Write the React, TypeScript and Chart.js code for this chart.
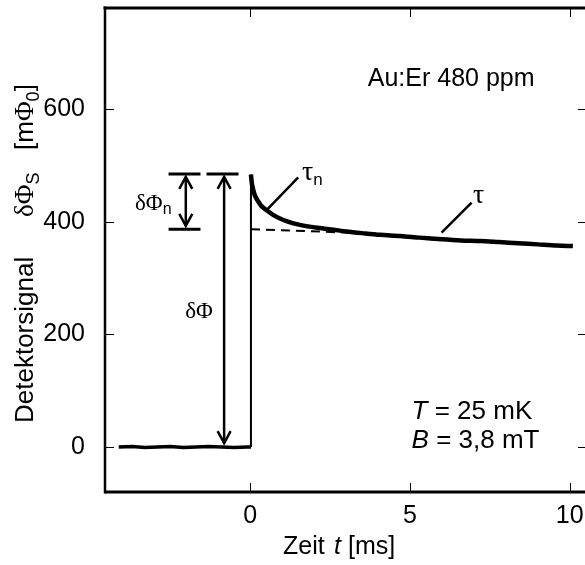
import { useEffect, useRef } from 'react';
import { Chart, registerables } from 'chart.js';

Chart.register(...registerables);

// ---- data ----
const X_TICKS = [0, 5, 10];
const Y_TICKS = [0, 200, 400, 600];

const BASE_T = [-4.12, -3.7, -3.3, -2.9, -2.5, -2.1, -1.7, -1.3, -0.9, -0.5, -0.1, 0.02];
const BASE_V = [0, 1, -1, 0, 1, -1, 0, 1, 0, -1, 0, 0];

const RISE_T = [0.02, 0.02];
const RISE_V = [0, 484];

const DECAY_T = [0.02, 0.05, 0.1, 0.15, 0.25, 0.35, 0.5, 0.7, 0.93, 1.2, 1.45, 1.8, 2.18, 2.6, 3.0, 3.5, 4.06, 4.7, 5.3, 6.0, 6.6, 7.2, 7.8, 8.4, 9.0, 9.6, 10.1];
const DECAY_V = [484, 468, 455, 446, 436, 428, 421, 413, 406, 400, 396, 392, 389, 386, 383, 380, 377, 375, 372, 369, 367, 366, 364, 362, 360, 358, 357];

const TREND_T = [0.02, 3.5];
const TREND_V = [387, 380];

const X_MIN = -4.55;
const X_MAX = 10.48;
const Y_MIN = -80;
const Y_MAX = 780;

const SANS = '"Liberation Sans", Arial, Helvetica, sans-serif';
const SERIF = '"Liberation Serif", "Times New Roman", serif';

type Run = { text: string; font: string; dy?: number };

function drawRuns(ctx: CanvasRenderingContext2D, x: number, y: number, runs: Run[]) {
  let cx = x;
  for (const r of runs) {
    ctx.font = r.font;
    ctx.fillText(r.text, cx, y + (r.dy || 0));
    cx += ctx.measureText(r.text).width;
  }
}

function arrowHead(ctx: CanvasRenderingContext2D, x: number, y: number, dir: number) {
  // dir = 1: tip points up; dir = -1: tip points down
  ctx.beginPath();
  ctx.moveTo(x - 6.5, y + dir * 12);
  ctx.lineTo(x, y);
  ctx.lineTo(x + 6.5, y + dir * 12);
  ctx.stroke();
}

const decorPlugin = {
  id: 'decor',
  afterDraw(chart: any) {
    const ctx: CanvasRenderingContext2D = chart.ctx;
    const xs = chart.scales.x;
    const ys = chart.scales.y;
    const ca = chart.chartArea;
    const px = (v: number) => xs.getPixelForValue(v);
    const py = (v: number) => ys.getPixelForValue(v);
    ctx.save();
    ctx.strokeStyle = '#000';
    ctx.fillStyle = '#000';
    ctx.lineCap = 'butt';

    // frame
    ctx.lineWidth = 3;
    ctx.beginPath();
    ctx.moveTo(ca.left, ca.bottom);
    ctx.lineTo(ca.right + 5, ca.bottom);
    ctx.moveTo(ca.left - 1.5, ca.top);
    ctx.lineTo(ca.right + 5, ca.top);
    ctx.stroke();
    ctx.lineWidth = 2.5;
    ctx.beginPath();
    ctx.moveTo(ca.left, ca.top - 1.5);
    ctx.lineTo(ca.left, ca.bottom + 1.5);
    ctx.stroke();

    // inward ticks
    ctx.lineWidth = 1;
    ctx.beginPath();
    for (const t of X_TICKS) {
      const x = Math.round(px(t)) + 0.5;
      ctx.moveTo(x, ca.bottom);
      ctx.lineTo(x, ca.bottom - 9);
      ctx.moveTo(x, ca.top);
      ctx.lineTo(x, ca.top + 9);
    }
    for (const v of Y_TICKS) {
      const y = Math.round(py(v)) + 0.5;
      ctx.moveTo(ca.left, y);
      ctx.lineTo(ca.left + 9, y);
      ctx.moveTo(ca.right + 2, y);
      ctx.lineTo(ca.right - 7, y);
    }
    ctx.stroke();

    // bars
    ctx.lineWidth = 3;
    ctx.beginPath();
    ctx.moveTo(px(-2.56), py(485));
    ctx.lineTo(px(-1.56), py(485));
    ctx.moveTo(px(-1.37), py(485));
    ctx.lineTo(px(-0.37), py(485));
    ctx.moveTo(px(-2.56), py(387));
    ctx.lineTo(px(-1.56), py(387));
    ctx.stroke();

    // arrows
    ctx.lineWidth = 2.5;
    const ax1 = px(-2.02);
    ctx.beginPath();
    ctx.moveTo(ax1, py(480));
    ctx.lineTo(ax1, py(393));
    ctx.stroke();
    arrowHead(ctx, ax1, py(480), 1);
    arrowHead(ctx, ax1, py(393), -1);
    const ax2 = px(-0.82);
    ctx.beginPath();
    ctx.moveTo(ax2, py(480));
    ctx.lineTo(ax2, py(7));
    ctx.stroke();
    arrowHead(ctx, ax2, py(480), 1);
    arrowHead(ctx, ax2, py(7), -1);

    // leader lines
    ctx.lineWidth = 2.5;
    ctx.beginPath();
    ctx.moveTo(px(0.51), py(421));
    ctx.lineTo(px(1.5), py(479));
    ctx.moveTo(px(5.99), py(381));
    ctx.lineTo(px(6.93), py(434));
    ctx.stroke();

    // labels
    ctx.textBaseline = 'alphabetic';
    ctx.textAlign = 'left';
    drawRuns(ctx, px(-3.61), py(421), [
      { text: 'δΦ', font: `23px ${SERIF}` },
      { text: 'n', font: `16px ${SANS}`, dy: 4 },
    ]);
    drawRuns(ctx, px(-2.04), py(229), [{ text: 'δΦ', font: `23px ${SERIF}` }]);
    drawRuns(ctx, px(1.62), py(474), [
      { text: 'τ', font: `28px ${SERIF}` },
      { text: 'n', font: `17px ${SANS}`, dy: 5 },
    ]);
    drawRuns(ctx, px(6.97), py(434), [{ text: 'τ', font: `28px ${SERIF}` }]);

    ctx.textAlign = 'right';
    ctx.font = `25px ${SANS}`;
    ctx.fillText('Au:Er 480 ppm', px(8.9), py(641));
    ctx.textAlign = 'left';

    drawRuns(ctx, px(5.05), py(50), [
      { text: 'T', font: `italic 26px ${SANS}` },
      { text: ' = 25 mK', font: `26px ${SANS}` },
    ]);
    drawRuns(ctx, px(5.05), py(-2), [
      { text: 'B', font: `italic 26px ${SANS}` },
      { text: ' = 3,8 mT', font: `26px ${SANS}` },
    ]);

    // x title
    drawRuns(ctx, 283, 554, [{ text: 'Zeit', font: `25px ${SANS}` }]);
    drawRuns(ctx, 334, 554, [{ text: 't', font: `italic 25px ${SANS}` }]);
    drawRuns(ctx, 348, 554, [{ text: '[ms]', font: `25px ${SANS}` }]);

    // y title (rotated)
    ctx.save();
    ctx.translate(33, 423);
    ctx.rotate(-Math.PI / 2);
    drawRuns(ctx, 0, 0, [{ text: 'Detektorsignal', font: `26px ${SANS}` }]);
    drawRuns(ctx, 206, 0, [
      { text: 'δΦ', font: `27px ${SERIF}` },
      { text: 'S', font: `18px ${SANS}`, dy: 6 },
    ]);
    drawRuns(ctx, 273, 0, [
      { text: '[m', font: `26px ${SANS}` },
      { text: 'Φ', font: `27px ${SERIF}` },
      { text: '0', font: `18px ${SANS}`, dy: 6 },
      { text: ']', font: `26px ${SANS}` },
    ]);
    ctx.restore();

    ctx.restore();
  },
};

export default function App() {
  const ref = useRef<HTMLCanvasElement | null>(null);
  useEffect(() => {
    document.body.style.margin = '0';
    document.body.style.overflow = 'hidden';
    const canvas = ref.current;
    if (!canvas) return;
    const toXY = (ts: number[], vs: number[]) => ts.map((t, i) => ({ x: t, y: vs[i] }));
    const chart = new Chart(canvas, {
      type: 'line',
      data: {
        datasets: [
          { data: toXY(BASE_T, BASE_V), borderColor: '#000', borderWidth: 3.5, pointRadius: 0, tension: 0 },
          { data: toXY(RISE_T, RISE_V), borderColor: '#000', borderWidth: 2, pointRadius: 0 },
          { data: toXY(DECAY_T, DECAY_V), borderColor: '#000', borderWidth: 4.5, pointRadius: 0, tension: 0.3 },
          { data: toXY(TREND_T, TREND_V), borderColor: '#000', borderWidth: 2, pointRadius: 0, borderDash: [9, 6] },
        ],
      },
      options: {
        animation: false,
        responsive: false,
        layout: { autoPadding: false, padding: { left: 0, top: 8, right: 0, bottom: 0 } },
        plugins: { legend: { display: false }, tooltip: { enabled: false } },
        scales: {
          x: {
            type: 'linear',
            min: X_MIN,
            max: X_MAX,
            grid: { display: false },
            border: { display: false },
            afterFit: (s: any) => {
              s.height = 73;
              s.paddingLeft = 0;
              s.paddingRight = 0;
              s.paddingTop = 0;
              s.paddingBottom = 0;
            },
            afterBuildTicks: (s: any) => { s.ticks = X_TICKS.map((v) => ({ value: v })); },
            ticks: { color: '#000', padding: 1, maxRotation: 0, font: { family: SANS, size: 25 } },
          },
          y: {
            type: 'linear',
            min: Y_MIN,
            max: Y_MAX,
            grid: { display: false },
            border: { display: false },
            afterFit: (s: any) => {
              s.width = 105;
              s.paddingLeft = 0;
              s.paddingRight = 0;
              s.paddingTop = 0;
              s.paddingBottom = 0;
            },
            afterBuildTicks: (s: any) => { s.ticks = Y_TICKS.map((v) => ({ value: v })); },
            ticks: { color: '#000', padding: 12, font: { family: SANS, size: 25 } },
          },
        },
      },
      plugins: [decorPlugin],
    } as any);
    return () => chart.destroy();
  }, []);
  return (
    <div style={{ width: 585, height: 565 }}>
      <canvas ref={ref} width={585} height={565} />
    </div>
  );
}
